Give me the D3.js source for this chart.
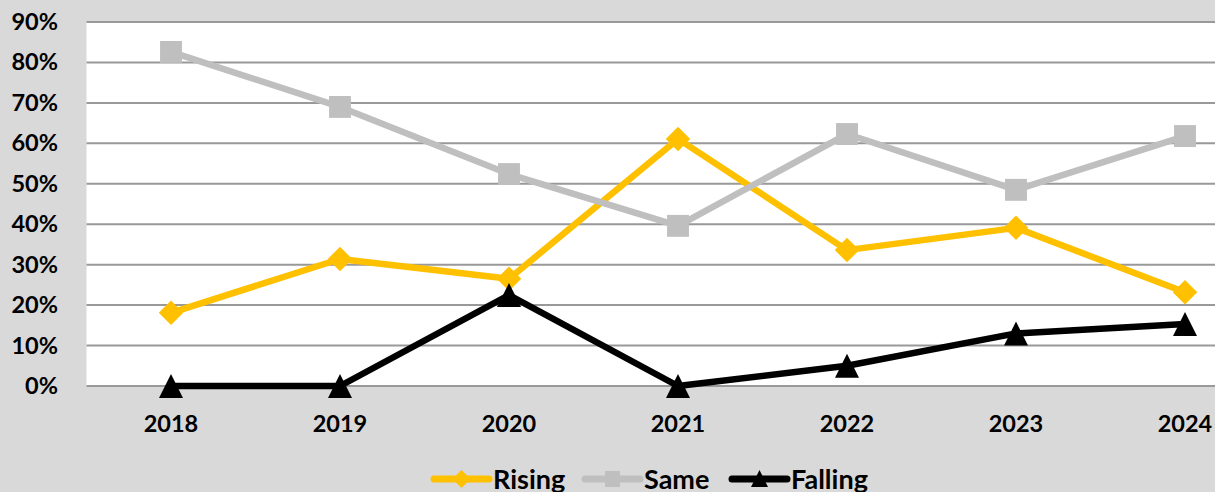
<!DOCTYPE html>
<html>
<head>
<meta charset="utf-8">
<script src="https://cdn.jsdelivr.net/npm/d3@7"></script>
<style>
  html, body { margin: 0; padding: 0; background: #d9d9d9; }
  svg { display: block; font-family: Lato, "Open Sans", sans-serif; font-weight: 700; }
</style>
</head>
<body>
<svg id="chart" width="1215" height="492"></svg>
<script>
const years   = ['2018', '2019', '2020', '2021', '2022', '2023', '2024'];
const rising  = [0.181, 0.314, 0.265, 0.611, 0.336, 0.391, 0.232];
const same    = [0.826, 0.690, 0.524, 0.396, 0.623, 0.485, 0.618];
const falling = [0.000, 0.000, 0.225, 0.000, 0.050, 0.130, 0.153];
const yTicks  = [0, 0.1, 0.2, 0.3, 0.4, 0.5, 0.6, 0.7, 0.8, 0.9];

const series = [
  { name: 'Rising',  values: rising,  color: '#ffc000', marker: 'diamond' },
  { name: 'Same',    values: same,    color: '#bfbfbf', marker: 'square' },
  { name: 'Falling', values: falling, color: '#000000', marker: 'triangle' }
];

const svg = d3.select('#chart');
const W = 1215, H = 492;
const m = { l: 86.5, t: 22, b: 106 };
const bandW = 169;

const x = d3.scaleBand().domain(years).range([m.l, m.l + bandW * years.length]);
const y = d3.scaleLinear().domain([0, 0.9]).range([H - m.b, m.t]);

svg.append('rect').attr('width', W).attr('height', H).attr('fill', '#d9d9d9');
svg.append('rect')
  .attr('x', m.l).attr('y', y(0.9))
  .attr('width', W - m.l).attr('height', y(0) - y(0.9))
  .attr('fill', '#ffffff');

// gridlines
svg.append('g').selectAll('line').data(yTicks).join('line')
  .attr('x1', m.l).attr('x2', W)
  .attr('y1', d => y(d)).attr('y2', d => y(d))
  .attr('stroke', '#999999').attr('stroke-width', 2);

// y labels
svg.append('g').selectAll('text').data(yTicks).join('text')
  .attr('x', 58).attr('y', d => y(d) + 8)
  .attr('text-anchor', 'end').attr('font-size', 23.5).attr('fill', '#000')
  .text(d => d3.format('.0%')(d));

// x labels
svg.append('g').selectAll('text').data(years).join('text')
  .attr('x', d => x(d) + x.bandwidth() / 2).attr('y', 432)
  .attr('text-anchor', 'middle').attr('font-size', 23.5).attr('fill', '#000')
  .text(d => d);

const line = d3.line()
  .x((d, i) => x(years[i]) + x.bandwidth() / 2)
  .y(d => y(d));

const symbols = {
  diamond:  d3.symbol().type(d3.symbolSquare).size(300),
  square:   d3.symbol().type(d3.symbolSquare).size(480)
};

function drawMarker(g, type, cx, cy, color) {
  if (type === 'triangle') {
    const s = 12;
    g.append('path')
      .attr('d', `M${cx},${cy - s}L${cx + s},${cy + s}L${cx - s},${cy + s}Z`)
      .attr('fill', color);
  } else {
    g.append('path')
      .attr('d', symbols[type]())
      .attr('transform', `translate(${cx},${cy})` + (type === 'diamond' ? ' rotate(45)' : ''))
      .attr('fill', color);
  }
}

series.forEach(s => {
  const g = svg.append('g');
  g.append('path').datum(s.values)
    .attr('fill', 'none').attr('stroke', s.color).attr('stroke-width', 6.5)
    .attr('stroke-linejoin', 'round')
    .attr('d', line);
  s.values.forEach((v, i) => {
    drawMarker(g, s.marker, x(years[i]) + x.bandwidth() / 2, y(v), s.color);
  });
});

// legend
const legendX = [434, 585, 732];
series.forEach((s, i) => {
  const g = svg.append('g').attr('transform', `translate(${legendX[i]},479)`);
  g.append('line').attr('x1', 0).attr('x2', 55).attr('y1', 0).attr('y2', 0)
    .attr('stroke', s.color).attr('stroke-width', 7).attr('stroke-linecap', 'round');
  if (s.marker === 'triangle') {
    g.append('path').attr('d', 'M27.5,-9L36,8L19,8Z').attr('fill', s.color);
  } else if (s.marker === 'diamond') {
    g.append('path').attr('d', 'M27.5,-9L36.5,0L27.5,9L18.5,0Z').attr('fill', s.color);
  } else {
    g.append('rect').attr('x', 20).attr('y', -8).attr('width', 15).attr('height', 16).attr('fill', s.color);
  }
  g.append('text').attr('x', 59).attr('y', 10)
    .attr('font-size', 27).attr('fill', '#000').text(s.name);
});
</script>
</body>
</html>
